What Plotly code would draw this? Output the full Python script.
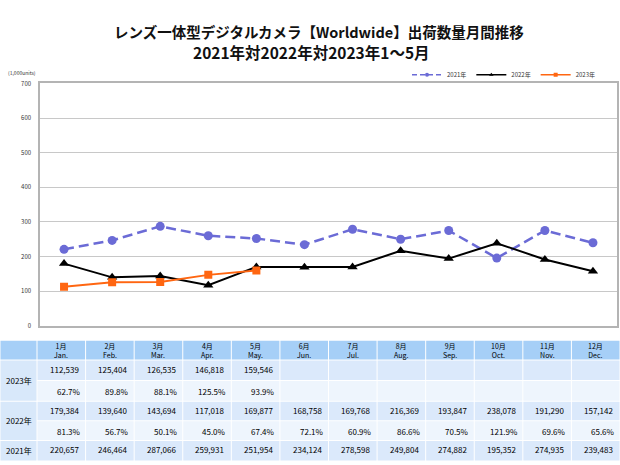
import plotly.graph_objects as go

W, H = 620, 465

months_jp = ["1月", "2月", "3月", "4月", "5月", "6月", "7月", "8月", "9月", "10月", "11月", "12月"]
months_en = ["Jan.", "Feb.", "Mar.", "Apr.", "May.", "Jun.", "Jul.", "Aug.", "Sep.", "Oct.", "Nov.", "Dec."]

units_2021 = [220657, 246464, 287066, 259931, 251954, 234124, 278598, 249804, 274882, 195352, 274935, 239483]
units_2022 = [179384, 139640, 143694, 117018, 169877, 168758, 169768, 216369, 193847, 238078, 191290, 157142]
units_2023 = [112539, 125404, 126535, 146818, 159546]
pct_2022 = [81.3, 56.7, 50.1, 45.0, 67.4, 72.1, 60.9, 86.6, 70.5, 121.9, 69.6, 65.6]
pct_2023 = [62.7, 89.8, 88.1, 125.5, 93.9]

year_labels = ["2021年", "2022年", "2023年"]
title_lines = ["レンズ一体型デジタルカメラ【Worldwide】出荷数量月間推移", "2021年対2022年対2023年1～5月"]
unit_label = "(1,000units)"

FONT = "Noto Sans CJK JP"

def px(x):
    return x / W

def py(y):
    return (H - y) / H

styles = [
    dict(color="#6b6bd6", width=2.5, dash="10px,5px", symbol="circle", size=9),
    dict(color="#000000", width=2, dash="solid", symbol="triangle-up", size=9),
    dict(color="#ff6611", width=2, dash="solid", symbol="square", size=8),
]
series = [units_2021, units_2022, units_2023]

fig = go.Figure()
for name, vals, st in zip(year_labels, series, styles):
    fig.add_trace(go.Scatter(
        x=months_jp[:len(vals)], y=[v / 1000 for v in vals], name=name, mode="lines+markers",
        line=dict(color=st["color"], width=st["width"], dash=st["dash"]),
        marker=dict(symbol=st["symbol"], size=st["size"], color=st["color"]),
        showlegend=False,
    ))
for name, st in zip(year_labels, styles):
    fig.add_trace(go.Scatter(
        x=[None], y=[None], name=name, mode="lines+markers",
        line=dict(color=st["color"], width=1.5, dash="5px,3px" if st["dash"] != "solid" else "solid"),
        marker=dict(symbol=st["symbol"], size=4, color=st["color"]),
        showlegend=True,
    ))

shapes = []
annotations = []

annotations.append(dict(text="<b>" + title_lines[0] + "</b>", x=px(319), y=py(27), xref="paper", yref="paper",
                        showarrow=False, font=dict(family=FONT, size=14.5, color="#111"), xanchor="center", yanchor="middle"))
annotations.append(dict(text="<b>" + title_lines[1] + "</b>", x=px(312), y=py(48), xref="paper", yref="paper",
                        showarrow=False, font=dict(family=FONT, size=15.5, color="#111"), xanchor="center", yanchor="middle"))
annotations.append(dict(text=unit_label, x=px(6), y=py(69), xref="paper", yref="paper", showarrow=False,
                        font=dict(family=FONT, size=5, color="#333"), xanchor="left", yanchor="middle"))

col0_l, col0_r = 0, 37
tbl_r = 620
ncol = len(months_jp)
cw = (tbl_r - col0_r) / ncol
row_edges = [342, 362, 383, 404, 424, 444, 465]
HEAD_C = "#a6cff7"
VAL_C = "#dbe9fb"
PCT_C = "#eef5fd"
LAB_C = "#d8e8fa"
GAP = 1.0

def rect(x0, x1, y0, y1, color):
    shapes.append(dict(type="rect", xref="paper", yref="paper", x0=px(x0 + GAP / 2), x1=px(x1 - GAP / 2),
                       y0=py(y1 - GAP / 2), y1=py(y0 + GAP / 2), fillcolor=color, line=dict(width=0), layer="below"))

def text(t, x, y, anchor="center", size=7):
    annotations.append(dict(text=t, x=px(x), y=py(y), xref="paper", yref="paper", showarrow=False,
                            font=dict(family=FONT, size=size, color="#000"), xanchor=anchor, yanchor="middle"))

rect(col0_l, col0_r, row_edges[0], row_edges[1], HEAD_C)
for i in range(ncol):
    x0 = col0_r + i * cw
    rect(x0, x0 + cw, row_edges[0], row_edges[1], HEAD_C)
    text(months_jp[i] + "<br>" + months_en[i], x0 + cw / 2, (row_edges[0] + row_edges[1]) / 2, size=7)

rect(col0_l, col0_r, row_edges[1], row_edges[3], LAB_C)
text(year_labels[2], (col0_l + col0_r) / 2, (row_edges[1] + row_edges[3]) / 2, size=8)
rect(col0_l, col0_r, row_edges[3], row_edges[5], LAB_C)
text(year_labels[1], (col0_l + col0_r) / 2, (row_edges[3] + row_edges[5]) / 2, size=8)
rect(col0_l, col0_r, row_edges[5], row_edges[6], LAB_C)
text(year_labels[0], (col0_l + col0_r) / 2, (row_edges[5] + row_edges[6]) / 2, size=8)

rows = [
    (units_2023, "val", VAL_C),
    (pct_2023, "pct", PCT_C),
    (units_2022, "val", VAL_C),
    (pct_2022, "pct", PCT_C),
    (units_2021, "val", VAL_C),
]
for r, (vals, kind, color) in enumerate(rows):
    y0, y1 = row_edges[r + 1], row_edges[r + 2]
    for i in range(ncol):
        x0 = col0_r + i * cw
        rect(x0, x0 + cw, y0, y1, color)
        if i < len(vals):
            if kind == "val":
                text(f"{vals[i]:,}", x0 + cw - 5, (y0 + y1) / 2 - 1, anchor="right", size=8)
            else:
                text(f"{vals[i]:.1f}%", x0 + cw - 3, (y0 + y1) / 2 + 1, anchor="right", size=8)

fig.update_layout(
    width=W, height=H,
    margin=dict(l=0, r=0, t=0, b=0),
    paper_bgcolor="white", plot_bgcolor="white",
    font=dict(family=FONT),
    shapes=shapes,
    annotations=annotations,
    showlegend=True,
    legend=dict(orientation="h", x=px(600), xanchor="right", y=py(71), yanchor="middle",
                font=dict(family=FONT, size=6, color="#333"), bgcolor="rgba(0,0,0,0)",
                itemwidth=30, tracegroupgap=0),
    xaxis=dict(domain=[px(40), px(617)], range=[-0.5, 11.5], showticklabels=False, ticks="",
               showgrid=False, showline=True, mirror=True, linecolor="#b4b4b4", linewidth=1.5,
               zeroline=False, fixedrange=True),
    yaxis=dict(domain=[py(327), py(80)], range=[0, 700], dtick=100, showgrid=True, gridcolor="#c8c8c8",
               gridwidth=1, showline=True, mirror=True, linecolor="#b4b4b4", linewidth=1.5,
               zeroline=False, tickfont=dict(family=FONT, size=6, color="#333"), ticks="", ticklen=0,
               ticklabelstandoff=6),
)

fig.write_html("out.html", config={"displayModeBar": False},
               post_script="document.body.style.margin='0';document.body.style.overflow='hidden';")
